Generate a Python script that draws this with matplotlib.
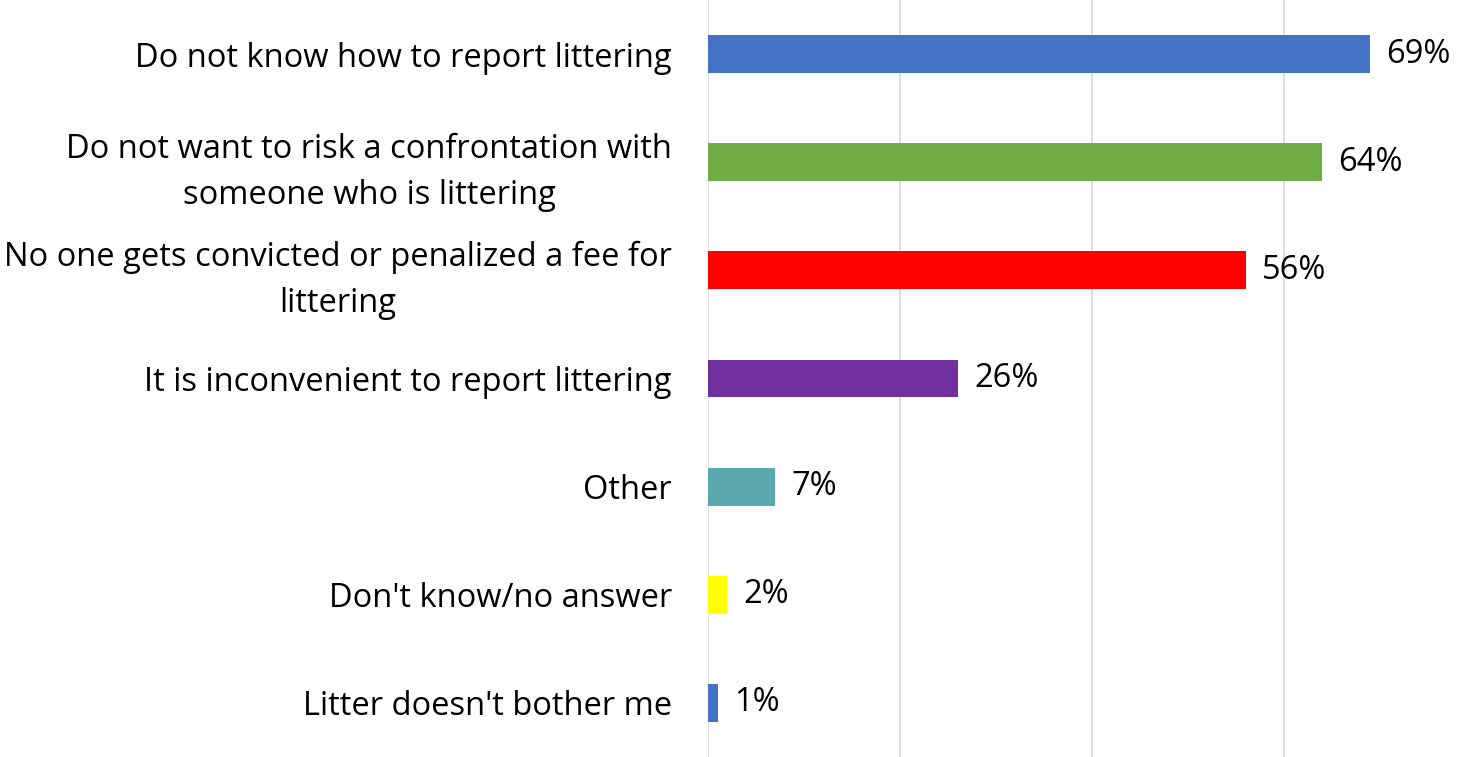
import matplotlib
matplotlib.use("Agg")
import matplotlib.pyplot as plt

labels = [
    "Do not know how to report littering",
    "Do not want to risk a confrontation with\nsomeone who is littering",
    "No one gets convicted or penalized a fee for\nlittering",
    "It is inconvenient to report littering",
    "Other",
    "Don't know/no answer",
    "Litter doesn't bother me",
]
values = [69, 64, 56, 26, 7, 2, 1]
colors = ["#4472C4", "#70AD47", "#FF0000", "#7030A0", "#5BA9B0", "#FFFF00", "#4472C4"]

plt.rcParams['font.family'] = ['Open Sans', 'DejaVu Sans']

fig = plt.figure(figsize=(14.73, 7.57), dpi=100)
ax = fig.add_axes([708 / 1473, 0.0, 1 - 708 / 1473, 1.0])

ypos = list(range(len(labels)))
ax.barh(ypos, values, height=0.35, color=colors, zorder=3)
for y, v in zip(ypos, values):
    ax.text(v + 1.7, y, f"{v}%", va="center", ha="left", fontsize=23.5)

ax.set_ylim(len(labels) - 0.5, -0.5)
ax.set_xlim(0, 79.7)
ax.set_yticks(ypos)
ax.set_yticklabels(labels, fontsize=23.5, ha="right", linespacing=1.5,
                   multialignment="center")
ax.tick_params(axis="y", length=0, pad=26)
ax.set_xticks([0, 20, 40, 60])
ax.tick_params(axis="x", length=0, labelbottom=False)
ax.grid(axis="x", color="#D9D9D9", linewidth=1.2, zorder=0)
for s in ax.spines.values():
    s.set_visible(False)

fig.savefig("out.png", dpi=100)
